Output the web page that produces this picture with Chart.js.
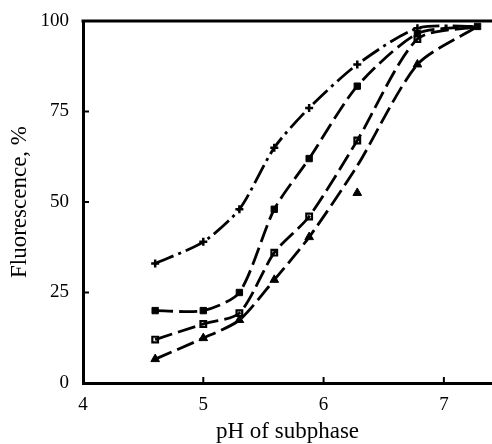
<!DOCTYPE html>
<html>
<head>
<meta charset="utf-8">
<script src="https://cdn.jsdelivr.net/npm/chart.js@4"></script>
<style>
  html, body { margin: 0; padding: 0; background: #fff; }
  #wrap { width: 492px; height: 444px; }
</style>
</head>
<body>
<div id="wrap"><canvas id="fluo"></canvas></div>
<script>
var phValues = [4.6, 5.0, 5.3, 5.59, 5.88, 6.28, 6.78];
var crossValues = [33, 39, 48, 65, 76, 88, 98];
var filledSquareValues = [20, 20, 25, 48, 62, 82, 96.5];
var openSquareValues = [12, 16.3, 19.3, 36, 46, 67, 95];
var triangleValues = [6.6, 12.4, 17.4, 28.5, 40.3, 52.5, 88];

// common end point of all curves (filled square at top right)
var endPh = 7.28;
var endValue = 98.5;

// drawn curve through the triangles (misses the point at pH 6.28)
var triangleCurveValues = [6.6, 12.4, 17.4, 28.5, 40.3, 60, 88];

var xTicks = [4, 5, 6, 7];
var yTicks = [0, 25, 50, 75, 100];

function pts(xs, ys) {
  return xs.map(function (x, i) { return { x: x, y: ys[i] }; });
}
function curve(xs, ys) {
  var p = pts(xs, ys);
  p.push({ x: endPh, y: endValue });
  return p;
}

var curveStyle = {
  showLine: true,
  borderColor: "#000",
  borderWidth: 2.8,
  pointRadius: 0,
  tension: 0.25,
  fill: false
};

function line(data, dash) {
  return Object.assign({}, curveStyle, { data: data, borderDash: dash });
}

// inward tick marks and the top frame line
const frameTicks = {
  id: "frameTicks",
  afterDraw(chart) {
    const ctx = chart.ctx;
    const a = chart.chartArea;
    const xs = chart.scales.x, ys = chart.scales.y;
    ctx.save();
    ctx.strokeStyle = "#000";
    ctx.lineWidth = 3;
    ctx.beginPath();
    ctx.moveTo(a.left - 1.5, a.top);
    ctx.lineTo(a.right, a.top);
    ctx.stroke();
    ctx.lineWidth = 2;
    yTicks.forEach(function (v) {
      var py = ys.getPixelForValue(v);
      ctx.beginPath();
      ctx.moveTo(a.left, py);
      ctx.lineTo(a.left + 6, py);
      ctx.stroke();
    });
    xTicks.forEach(function (v) {
      var px = xs.getPixelForValue(v);
      ctx.beginPath();
      ctx.moveTo(px, a.bottom);
      ctx.lineTo(px, a.bottom - 6);
      ctx.stroke();
    });
    ctx.restore();
  }
};

new Chart("fluo", {
  type: "scatter",
  data: {
    datasets: [
      line(curve(phValues, crossValues), [20, 5, 3, 5]),
      line(curve(phValues, filledSquareValues), [18, 6]),
      line(curve(phValues, openSquareValues), [18, 6]),
      line(curve(phValues, triangleCurveValues), [18, 6]),
      {
        data: pts(phValues, crossValues),
        pointStyle: "cross", pointRadius: 4, borderColor: "#000", borderWidth: 2.5
      },
      {
        data: pts(phValues, filledSquareValues).concat([{ x: endPh, y: endValue }]),
        pointStyle: "rect", pointRadius: 4.5, backgroundColor: "#000", borderColor: "#000", borderWidth: 1
      },
      {
        data: pts(phValues, openSquareValues),
        pointStyle: "rect", pointRadius: 4, backgroundColor: "#fff", borderColor: "#000", borderWidth: 2.2
      },
      {
        data: pts(phValues, triangleValues),
        pointStyle: "triangle", pointRadius: 5, backgroundColor: "#000", borderColor: "#000", borderWidth: 1
      }
    ]
  },
  options: {
    responsive: true,
    maintainAspectRatio: false,
    animation: false,
    layout: { autoPadding: false, padding: { top: 21, right: 0, left: 0, bottom: 0 } },
    plugins: { legend: { display: false }, tooltip: { enabled: false } },
    scales: {
      x: {
        type: "linear",
        min: 4,
        max: 7.4,
        afterBuildTicks: function (s) { s.ticks = xTicks.map(function (v) { return { value: v }; }); },
        afterFit: function (s) { s.height = 61; s.paddingLeft = 0; s.paddingRight = 0; },
        grid: { display: false, drawTicks: false },
        border: { display: true, color: "#000", width: 3 },
        ticks: { color: "#000", padding: 11, font: { family: "Liberation Serif", size: 19 } },
        title: {
          display: true, text: "pH of subphase", color: "#000",
          font: { family: "Liberation Serif", size: 23 }, padding: { top: 4, bottom: -2 }
        }
      },
      y: {
        type: "linear",
        min: 0,
        max: 100,
        afterBuildTicks: function (s) { s.ticks = yTicks.map(function (v) { return { value: v }; }); },
        afterFit: function (s) { s.width = 83; s.paddingTop = 0; s.paddingBottom = 0; },
        grid: { display: false, drawTicks: false },
        border: { display: true, color: "#000", width: 3 },
        ticks: { color: "#000", padding: 14, font: { family: "Liberation Serif", size: 19 } },
        title: {
          display: true, text: "Fluorescence, %", color: "#000",
          font: { family: "Liberation Serif", size: 23 }, padding: { top: 6, bottom: 0 }
        }
      }
    }
  },
  plugins: [frameTicks]
});
</script>
</body>
</html>
